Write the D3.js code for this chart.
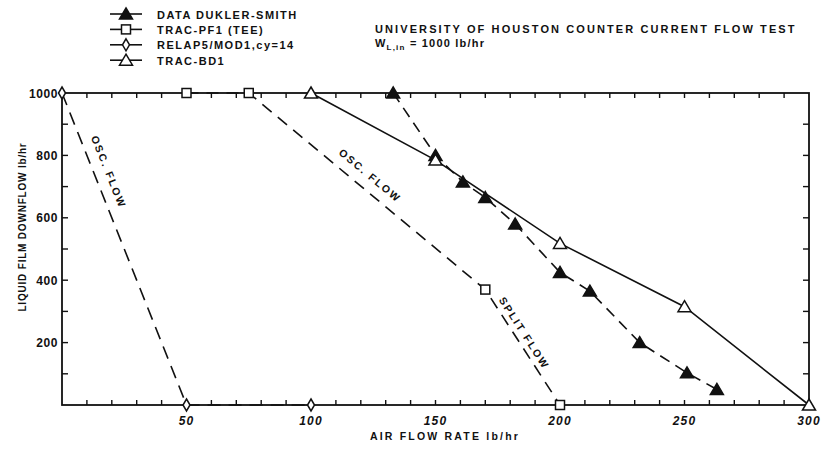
<!DOCTYPE html>
<meta charset="UTF-8">
<style>
    body { margin: 0; background: #fff; }
    svg text { font-family: "Liberation Sans", Arial, sans-serif; font-weight: bold; fill: #111; }
    .frame { fill: none; stroke: #111; stroke-width: 1.8px; }
    .tick { stroke: #111; stroke-width: 1.4px; }
    .series { fill: none; stroke: #111; stroke-width: 1.6px; }
</style>
<body>
<div id="chart"></div>
<script src="https://d3js.org/d3.v7.min.js"></script>
<script>
    // Data
    var dukX = [133, 150, 161, 170, 182, 200, 212, 232, 251, 263];
    var dukY = [1000, 800, 715, 665, 580, 425, 365, 200, 103, 50];
    var pf1X = [50, 75, 170, 200];
    var pf1Y = [1000, 1000, 370, 0];
    var relX = [0, 50, 100];
    var relY = [1000, 0, 0];
    var bd1X = [100, 150, 200, 250, 300];
    var bd1Y = [1000, 785, 518, 315, 0];

    var xTickLabels = [50, 100, 150, 200, 250, 300];
    var yTickLabels = [200, 400, 600, 800, 1000];
    var legendNames = ["DATA DUKLER-SMITH", "TRAC-PF1 (TEE)", "RELAP5/MOD1,cy=14", "TRAC-BD1"];

    var width = 828, height = 454;
    var svg = d3.select("#chart").append("svg")
            .attr("width", width)
            .attr("height", height);

    var x = d3.scaleLinear().domain([0, 300]).range([62, 809]);
    var y = d3.scaleLinear().domain([0, 1000]).range([405, 93]);

    // frame
    svg.append("rect").attr("class", "frame")
            .attr("x", x(0)).attr("y", y(1000))
            .attr("width", x(300) - x(0)).attr("height", y(0) - y(1000));

    // minor ticks (inside)
    var xt = d3.range(10, 300, 10);
    svg.selectAll("line.xb").data(xt).enter().append("line").attr("class", "tick")
            .attr("x1", function (d) { return x(d); }).attr("x2", function (d) { return x(d); })
            .attr("y1", y(0)).attr("y2", y(0) - 5);
    svg.selectAll("line.xt").data(xt).enter().append("line").attr("class", "tick")
            .attr("x1", function (d) { return x(d); }).attr("x2", function (d) { return x(d); })
            .attr("y1", y(1000)).attr("y2", y(1000) + 5);
    var yt = d3.range(100, 1000, 100);
    svg.selectAll("line.yl").data(yt).enter().append("line").attr("class", "tick")
            .attr("y1", function (d) { return y(d); }).attr("y2", function (d) { return y(d); })
            .attr("x1", x(0)).attr("x2", x(0) + 6);
    svg.selectAll("line.yr").data(yt).enter().append("line").attr("class", "tick")
            .attr("y1", function (d) { return y(d); }).attr("y2", function (d) { return y(d); })
            .attr("x1", x(300)).attr("x2", x(300) - 6);

    // tick labels
    svg.selectAll("text.xl").data(xTickLabels).enter().append("text")
            .attr("x", function (d) { return x(d); })
            .attr("y", 425)
            .attr("text-anchor", "middle")
            .style("font-size", "12px")
            .style("letter-spacing", "1.2px")
            .style("font-style", "italic")
            .text(function (d) { return d; });
    svg.selectAll("text.yl").data(yTickLabels).enter().append("text")
            .attr("x", x(0) - 4)
            .attr("y", function (d) { return y(d) + 4.5; })
            .attr("text-anchor", "end")
            .style("font-size", "12px")
            .style("letter-spacing", "0.6px")
            .text(function (d) { return d; });

    // axis titles
    svg.append("text")
            .attr("transform", "translate(26,227) rotate(-90)")
            .attr("text-anchor", "middle")
            .style("font-size", "10px")
            .style("letter-spacing", "0.8px")
            .text("LIQUID FILM DOWNFLOW lb/hr");
    svg.append("text")
            .attr("x", 445).attr("y", 440)
            .attr("text-anchor", "middle")
            .style("font-size", "10.5px")
            .style("letter-spacing", "2.2px")
            .text("AIR FLOW RATE lb/hr");

    // markers
    function marker(sel, type) {
        if (type === "ftri" || type === "otri") {
            sel.append("path").attr("d", "M0,-6L6.5,5L-6.5,5Z")
                    .attr("fill", type === "ftri" ? "#111" : "#fff")
                    .attr("stroke", "#111").attr("stroke-width", 1.5);
        } else if (type === "square") {
            sel.append("rect").attr("x", -4.5).attr("y", -4.5).attr("width", 9).attr("height", 9)
                    .attr("fill", "#fff").attr("stroke", "#111").attr("stroke-width", 1.5);
        } else {
            sel.append("path").attr("d", "M0,-6L3.5,0L0,6L-3.5,0Z")
                    .attr("fill", "#fff").attr("stroke", "#111").attr("stroke-width", 1.5);
        }
    }

    var series = [
        {xs: dukX, ys: dukY, m: "ftri", dash: "11,7"},
        {xs: pf1X, ys: pf1Y, m: "square", dash: "12,8"},
        {xs: relX, ys: relY, m: "diamond", dash: "13,8"},
        {xs: bd1X, ys: bd1Y, m: "otri", dash: null}
    ];

    var line = d3.line()
            .x(function (d) { return x(d[0]); })
            .y(function (d) { return y(d[1]); });

    series.forEach(function (s) {
        var pts = d3.zip(s.xs, s.ys);
        svg.append("path").attr("class", "series")
                .attr("d", line(pts))
                .attr("stroke-dasharray", s.dash);
    });
    series.forEach(function (s) {
        var pts = d3.zip(s.xs, s.ys);
        pts.forEach(function (p) {
            var g = svg.append("g").attr("transform", "translate(" + x(p[0]) + "," + y(p[1]) + ")");
            marker(g, s.m);
        });
    });

    // labels along segments
    function segLabel(x0, y0, x1, y1, t, off, txt) {
        var ax = x(x0), ay = y(y0), bx = x(x1), by = y(y1);
        var ang = Math.atan2(by - ay, bx - ax);
        var px = ax + (bx - ax) * t + Math.sin(ang) * off;
        var py = ay + (by - ay) * t - Math.cos(ang) * off;
        svg.append("text")
                .attr("transform", "translate(" + px + "," + py + ") rotate(" + (ang * 180 / Math.PI) + ")")
                .attr("text-anchor", "middle")
                .attr("dy", "0.35em")
                .style("font-size", "10.5px")
                .style("letter-spacing", "2px")
                .text(txt);
    }
    segLabel(relX[0], relY[0], relX[1], relY[1], 0.27, 14, "OSC. FLOW");
    segLabel(pf1X[1], pf1Y[1], pf1X[2], pf1Y[2], 0.475, 14, "OSC. FLOW");
    segLabel(pf1X[2], pf1Y[2], pf1X[3], pf1Y[3], 0.42, 9, "SPLIT FLOW");

    // legend
    var leg = svg.append("g").attr("transform", "translate(110,14)");
    legendNames.forEach(function (name, i) {
        var g = leg.append("g").attr("transform", "translate(0," + (i * 15.4) + ")");
        g.append("line").attr("x1", 0).attr("x2", 32).attr("y1", 0).attr("y2", 0)
                .attr("stroke", "#111").attr("stroke-width", 1.6);
        var mg = g.append("g").attr("transform", "translate(16,0)");
        marker(mg, series[i].m);
        g.append("text").attr("x", 47).attr("y", 4.5)
                .style("font-size", "11px")
                .style("letter-spacing", "1.5px")
                .text(name);
    });

    // title
    svg.append("text").attr("x", 375).attr("y", 33)
            .style("font-size", "11px")
            .style("letter-spacing", "2.1px")
            .text("UNIVERSITY OF HOUSTON COUNTER CURRENT FLOW TEST");
    var sub = svg.append("text").attr("x", 375).attr("y", 47)
            .style("font-size", "11px")
            .style("letter-spacing", "1.2px");
    sub.append("tspan").text("W");
    sub.append("tspan").attr("dy", 3).style("font-size", "8px").text("L,in");
    sub.append("tspan").attr("dy", -3).text(" = 1000 lb/hr");
</script>
</body>
